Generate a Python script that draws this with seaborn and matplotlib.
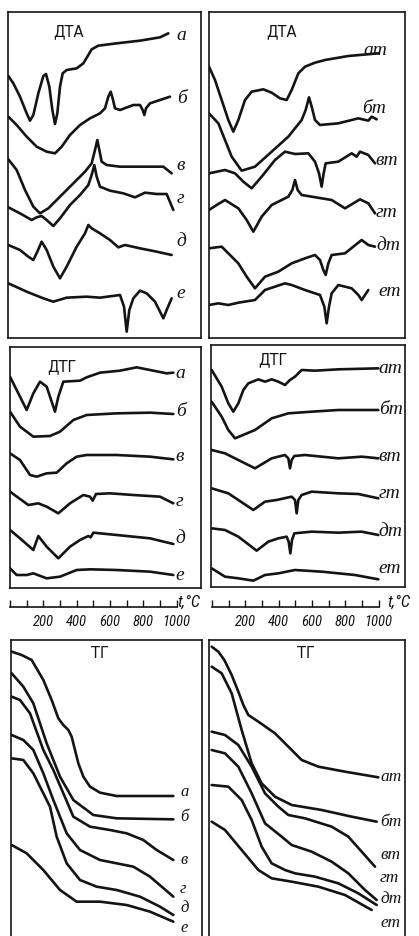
import matplotlib
matplotlib.use("Agg")
import matplotlib.pyplot as plt
import seaborn as sns
from matplotlib import font_manager as fm

# ---------------- data (temperature °C, signal in arbitrary units) ----------------
left_names = ["а", "б", "в", "г", "д", "е"]
right_names = ["ат", "бт", "вт", "гт", "дт", "ет"]
tick_values = [0, 100, 200, 300, 400, 500, 600, 700, 800, 900, 1000]
tick_labels = ["", "", "200", "", "400", "", "600", "", "800", "", "1000"]

# DTA, left column
dta_l_a_t = [-10, 20, 60, 100, 120, 140, 170, 200, 216, 236, 254, 270, 284, 300, 316, 340, 400, 440, 464, 490, 530, 640, 780, 900, 950]
dta_l_a_v = [772, 750, 710, 660, 638, 655, 720, 772, 778, 740, 670, 628, 660, 740, 780, 790, 795, 810, 830, 852, 863, 870, 878, 888, 900]
dta_l_b_t = [-10, 40, 100, 160, 220, 270, 310, 360, 420, 480, 540, 570, 590, 604, 616, 630, 660, 740, 780, 796, 806, 816, 840, 900, 960]
dta_l_b_v = [650, 625, 590, 560, 545, 540, 560, 595, 625, 645, 660, 675, 710, 725, 705, 675, 670, 685, 685, 670, 655, 675, 690, 700, 710]
dta_l_v_t = [-10, 40, 90, 140, 180, 230, 300, 380, 450, 490, 510, 524, 536, 550, 580, 660, 780, 920, 970]
dta_l_v_v = [522, 490, 430, 380, 360, 375, 410, 450, 485, 510, 550, 580, 550, 515, 505, 500, 500, 500, 480]
dta_l_g_t = [-10, 60, 130, 160, 190, 220, 260, 300, 360, 420, 470, 490, 506, 520, 540, 600, 680, 750, 780, 810, 880, 940, 980]
dta_l_g_v = [378, 360, 340, 348, 352, 340, 322, 345, 385, 415, 445, 475, 505, 470, 440, 428, 420, 408, 415, 422, 418, 418, 370]
dta_l_d_t = [-10, 60, 110, 140, 164, 190, 220, 260, 300, 340, 400, 450, 470, 490, 540, 600, 650, 690, 780, 880, 970]
dta_l_d_v = [265, 250, 230, 220, 245, 275, 250, 200, 165, 200, 260, 300, 325, 315, 300, 280, 258, 265, 255, 245, 235]
dta_l_e_t = [-10, 100, 200, 260, 340, 460, 540, 660, 684, 700, 716, 740, 780, 820, 870, 900, 920, 940, 970]
dta_l_e_v = [150, 125, 105, 95, 107, 110, 107, 115, 80, 5, 70, 105, 128, 120, 95, 65, 45, 70, 105]

# DTA, right column
dta_r_a_t = [-18, 18, 58, 98, 128, 158, 198, 238, 308, 358, 408, 448, 478, 518, 558, 618, 678, 818, 998]
dta_r_a_v = [800, 760, 700, 640, 605, 640, 700, 725, 732, 722, 705, 700, 730, 780, 800, 812, 820, 832, 840]
dta_r_b_t = [-18, 38, 78, 118, 178, 258, 358, 458, 538, 562, 582, 598, 618, 648, 758, 878, 938, 958, 988]
dta_r_b_v = [660, 630, 580, 530, 488, 500, 545, 590, 640, 670, 708, 680, 640, 625, 630, 645, 638, 650, 642]
dta_r_v_t = [-18, 78, 138, 188, 238, 298, 378, 438, 498, 578, 618, 642, 658, 670, 682, 758, 838, 868, 888, 938, 978]
dta_r_v_v = [480, 490, 480, 455, 435, 470, 520, 545, 538, 540, 515, 480, 440, 480, 510, 515, 540, 530, 545, 535, 510]
dta_r_g_t = [-18, 28, 78, 158, 208, 248, 298, 358, 458, 482, 498, 514, 538, 598, 718, 798, 848, 888, 938, 978]
dta_r_g_v = [370, 385, 400, 375, 340, 305, 350, 385, 410, 430, 460, 430, 415, 410, 400, 375, 390, 402, 390, 360]
dta_r_d_t = [-18, 58, 158, 208, 258, 318, 398, 478, 558, 618, 648, 668, 682, 698, 718, 798, 878, 898, 938, 978]
dta_r_d_v = [255, 260, 210, 170, 135, 170, 185, 210, 225, 235, 220, 190, 175, 210, 235, 240, 272, 280, 265, 260]
dta_r_e_t = [-18, 38, 98, 158, 258, 318, 438, 478, 558, 648, 674, 688, 702, 718, 758, 838, 878, 898, 918, 938]
dta_r_e_v = [85, 90, 85, 92, 100, 130, 150, 145, 130, 115, 80, 30, 80, 120, 145, 135, 115, 100, 115, 130]

# DTG, left column
dtg_l_a_t = [0, 40, 100, 140, 180, 220, 250, 270, 290, 320, 420, 460, 540, 660, 760, 860, 940, 980]
dtg_l_a_v = [890, 850, 790, 840, 875, 860, 815, 785, 830, 875, 878, 888, 902, 908, 918, 908, 900, 902]
dtg_l_b_t = [0, 60, 140, 240, 300, 380, 460, 640, 840, 980]
dtg_l_b_v = [785, 740, 710, 712, 725, 760, 775, 780, 782, 778]
dtg_l_v_t = [0, 60, 120, 160, 220, 280, 340, 400, 460, 640, 840, 980]
dtg_l_v_v = [660, 640, 595, 590, 600, 602, 630, 650, 655, 655, 650, 642]
dtg_l_g_t = [0, 110, 170, 220, 290, 360, 440, 480, 496, 516, 600, 740, 900, 980]
dtg_l_g_v = [545, 505, 510, 500, 480, 510, 535, 530, 518, 538, 540, 535, 530, 510]
dtg_l_d_t = [0, 60, 140, 170, 220, 290, 360, 420, 470, 484, 500, 640, 840, 980]
dtg_l_d_v = [430, 405, 370, 412, 380, 345, 380, 400, 412, 408, 422, 415, 405, 388]
dtg_l_e_t = [0, 40, 100, 140, 220, 300, 400, 480, 640, 840, 980]
dtg_l_e_v = [315, 295, 295, 300, 285, 290, 310, 312, 310, 305, 295]

# DTG, right column
dtg_r_a_t = [-2, 58, 98, 128, 158, 188, 218, 278, 318, 358, 398, 438, 468, 498, 538, 618, 758, 998]
dtg_r_a_v = [910, 860, 810, 785, 810, 850, 870, 882, 875, 882, 875, 865, 880, 890, 910, 908, 912, 915]
dtg_r_b_t = [-2, 58, 98, 138, 258, 358, 458, 598, 758, 998]
dtg_r_b_v = [815, 770, 730, 705, 730, 765, 780, 785, 790, 790]
dtg_r_v_t = [-2, 78, 158, 258, 358, 438, 458, 468, 478, 494, 558, 758, 898, 998]
dtg_r_v_v = [670, 660, 640, 615, 645, 655, 645, 615, 640, 652, 655, 645, 650, 645]
dtg_r_g_t = [-2, 98, 158, 248, 318, 388, 478, 498, 508, 518, 538, 598, 758, 878, 998]
dtg_r_g_v = [555, 540, 520, 490, 515, 520, 530, 520, 480, 520, 535, 545, 540, 538, 525]
dtg_r_d_t = [-2, 78, 158, 268, 338, 398, 448, 460, 470, 480, 494, 598, 758, 898, 998]
dtg_r_d_v = [435, 430, 410, 368, 395, 405, 410, 395, 360, 400, 420, 425, 422, 425, 415]
dtg_r_e_t = [-2, 78, 158, 248, 318, 398, 498, 658, 858, 998]
dtg_r_e_v = [315, 290, 285, 278, 295, 300, 310, 305, 295, 282]

# TG, left column
tg_l_a_t = [10, 70, 130, 200, 250, 290, 320, 350, 370, 390, 410, 440, 480, 540, 640, 980]
tg_l_a_v = [1025, 1015, 1000, 940, 880, 825, 805, 790, 770, 730, 690, 650, 620, 602, 592, 592]
tg_l_b_t = [10, 80, 140, 220, 300, 380, 500, 640, 980]
tg_l_b_v = [960, 920, 870, 750, 650, 580, 535, 525, 522]
tg_l_v_t = [10, 60, 120, 200, 260, 320, 380, 480, 600, 700, 800, 880, 980]
tg_l_v_v = [890, 880, 840, 730, 670, 600, 530, 500, 490, 480, 460, 430, 400]
tg_l_g_t = [10, 80, 140, 200, 260, 340, 420, 540, 640, 740, 840, 980]
tg_l_g_v = [775, 760, 730, 660, 580, 480, 430, 400, 390, 380, 350, 290]
tg_l_d_t = [10, 80, 140, 200, 240, 280, 340, 420, 520, 640, 780, 900, 980]
tg_l_d_v = [705, 700, 660, 600, 560, 470, 390, 340, 320, 310, 290, 260, 235]
tg_l_e_t = [10, 100, 200, 300, 400, 540, 700, 840, 980]
tg_l_e_v = [445, 420, 370, 310, 275, 275, 265, 245, 215]

# TG, right column
tg_r_a_t = [-2, 38, 74, 118, 158, 188, 218, 278, 378, 458, 538, 638, 798, 998]
tg_r_a_v = [1040, 1025, 1000, 955, 905, 865, 835, 815, 780, 740, 700, 680, 665, 648]
tg_r_b_t = [-2, 58, 118, 178, 238, 298, 378, 478, 658, 838, 988]
tg_r_b_v = [980, 960, 900, 790, 690, 630, 590, 565, 550, 530, 515]
tg_r_v_t = [-2, 78, 158, 238, 318, 398, 458, 558, 718, 818, 898, 978]
tg_r_v_v = [785, 775, 745, 680, 600, 560, 535, 525, 500, 470, 425, 380]
tg_r_g_t = [-2, 78, 158, 238, 318, 418, 478, 598, 718, 818, 918, 988]
tg_r_g_v = [730, 720, 680, 600, 510, 470, 445, 425, 395, 360, 310, 280]
tg_r_d_t = [-2, 98, 178, 238, 298, 358, 438, 498, 618, 758, 878, 988]
tg_r_d_v = [625, 620, 580, 520, 440, 390, 370, 360, 350, 330, 300, 265]
tg_r_e_t = [-2, 78, 178, 278, 358, 478, 638, 798, 958]
tg_r_e_v = [515, 490, 430, 370, 345, 335, 320, 295, 250]

# ---------------- fonts ----------------
sns.set_theme(style="white")


def has_font(name, style):
    return any(f.name == name and f.style == style for f in fm.fontManager.ttflist)


label_font = next((n for n in ["Liberation Serif", "DejaVu Serif"] if has_font(n, "italic")), "DejaVu Serif")
num_font = next((n for n in ["Liberation Sans Narrow", "Roboto Condensed", "Liberation Sans"]
                 if has_font(n, "italic")), "DejaVu Sans")
title_font = "DejaVu Sans"
plt.rcParams["font.family"] = ["DejaVu Sans"]

# ---------------- figure ----------------
W, H = 419, 936
fig = plt.figure(figsize=(W / 100, H / 100), dpi=100)
fig.patch.set_facecolor("white")
INK = "#141414"


def px_axes(l, r, t, b, x0, oy):
    ax = fig.add_axes([l / W, 1 - b / H, (r - l) / W, (b - t) / H])
    ax.set_facecolor("white")
    ax.set_xlim(6 * (l - x0), 6 * (r - x0))
    ax.set_ylim(1000 - 3 * (b - oy), 1000 - 3 * (t - oy))
    for s in ax.spines.values():
        s.set_color(INK)
        s.set_linewidth(1.2)
    return ax


def draw_panel(ax, curves, names, label_pos, xlim, ylim, lsize):
    for (t, v) in curves:
        sns.lineplot(x=t, y=v, ax=ax, color=INK, linewidth=1.9, sort=False,
                     estimator=None, solid_joinstyle="round", solid_capstyle="round")
    for name, (lt, lv) in zip(names, label_pos):
        ax.text(lt, lv, name, ha="left", va="center", fontsize=lsize,
                family=label_font, style="italic", color=INK)
    ax.set_xlim(*xlim)
    ax.set_ylim(*ylim)
    ax.set_xlabel("")
    ax.set_ylabel("")
    ax.set_xticks([])
    ax.set_yticks([])


panels = [
    # (l, r, t, b, x0, oy, curves, names, label positions, open bottom, label size)
    (8, 201, 12, 338, 10, 0,
     [(dta_l_a_t, dta_l_a_v), (dta_l_b_t, dta_l_b_v), (dta_l_v_t, dta_l_v_v),
      (dta_l_g_t, dta_l_g_v), (dta_l_d_t, dta_l_d_v), (dta_l_e_t, dta_l_e_v)],
     left_names, [(1000, 895), (1000, 705), (1000, 505), (1000, 405), (1000, 275), (1000, 120)], False, 14),
    (209, 405, 12, 338, 212, 0,
     [(dta_r_a_t, dta_r_a_v), (dta_r_b_t, dta_r_b_v), (dta_r_v_t, dta_r_v_v),
      (dta_r_g_t, dta_r_g_v), (dta_r_d_t, dta_r_d_v), (dta_r_e_t, dta_r_e_v)],
     right_names, [(908, 850), (898, 675), (978, 520), (984, 364), (984, 265), (1000, 124)], False, 14),
    (10, 201, 347, 588, 10, 340,
     [(dtg_l_a_t, dtg_l_a_v), (dtg_l_b_t, dtg_l_b_v), (dtg_l_v_t, dtg_l_v_v),
      (dtg_l_g_t, dtg_l_g_v), (dtg_l_d_t, dtg_l_d_v), (dtg_l_e_t, dtg_l_e_v)],
     left_names, [(995, 900), (995, 785), (995, 650), (995, 515), (995, 405), (995, 295)], False, 14),
    (211, 405, 345, 587, 212, 340,
     [(dtg_r_a_t, dtg_r_a_v), (dtg_r_b_t, dtg_r_b_v), (dtg_r_v_t, dtg_r_v_v),
      (dtg_r_g_t, dtg_r_g_v), (dtg_r_d_t, dtg_r_d_v), (dtg_r_e_t, dtg_r_e_v)],
     right_names, [(1000, 915), (1000, 790), (1000, 650), (1000, 540), (1000, 425), (1000, 315)], False, 14),
    (11, 202, 640, 936, 10, 660,
     [(tg_l_a_t, tg_l_a_v), (tg_l_b_t, tg_l_b_v), (tg_l_v_t, tg_l_v_v),
      (tg_l_g_t, tg_l_g_v), (tg_l_d_t, tg_l_d_v), (tg_l_e_t, tg_l_e_v)],
     left_names, [(1020, 605), (1020, 530), (1020, 400), (1020, 312), (1020, 255), (1020, 195)], True, 12),
    (209, 405, 640, 936, 212, 660,
     [(tg_r_a_t, tg_r_a_v), (tg_r_b_t, tg_r_b_v), (tg_r_v_t, tg_r_v_v),
      (tg_r_g_t, tg_r_g_v), (tg_r_d_t, tg_r_d_v), (tg_r_e_t, tg_r_e_v)],
     right_names, [(1008, 648), (1008, 515), (1008, 415), (1008, 345), (1008, 283), (1008, 210)], True, 12.5),
]

for (l, r, t, b, x0, oy, curves, names, lpos, open_bottom, lsize) in panels:
    ax = px_axes(l, r, t, b, x0, oy)
    xlim, ylim = ax.get_xlim(), ax.get_ylim()
    draw_panel(ax, curves, names, lpos, xlim, ylim, lsize)
    if open_bottom:
        ax.spines["bottom"].set_visible(False)

# panel titles
titles = [("ДТА", 68, 32), ("ДТА", 281, 32), ("ДТГ", 62, 367), ("ДТГ", 273, 360),
          ("ТГ", 100, 653), ("ТГ", 306, 653)]
for txt, x, y in titles:
    fig.text(x / W, 1 - y / H, txt, ha="center", va="center", fontsize=10.5,
             family=title_font, color=INK)

# temperature scale bars
for (l, r, x0, tx) in [(10, 201, 10, 177), (211, 405, 212, 387)]:
    tax = fig.add_axes([l / W, 1 - 607 / H, (r - l) / W, 7 / H])
    tax.set_facecolor("none")
    tax.set_xlim(6 * (l - x0), 6 * (r - x0))
    tax.set_ylim(0, 1)
    for side in ["top", "left", "right"]:
        tax.spines[side].set_visible(False)
    tax.spines["bottom"].set_bounds(0, 1000)
    tax.spines["bottom"].set_color(INK)
    tax.spines["bottom"].set_linewidth(1.2)
    tax.set_yticks([])
    tax.set_xticks(tick_values)
    tax.set_xticklabels(tick_labels)
    tax.tick_params(axis="x", direction="in", length=5, width=1.0, color=INK,
                    pad=6, labelsize=10.5, labelcolor=INK, bottom=True)
    for lab in tax.get_xticklabels():
        lab.set_family(num_font)
        lab.set_style("italic")
    fig.text(tx / W, 1 - 602 / H, "t,°C", ha="left", va="center", fontsize=12,
             family=num_font, style="italic", color=INK)

fig.savefig("out.png", dpi=100, facecolor="white")
